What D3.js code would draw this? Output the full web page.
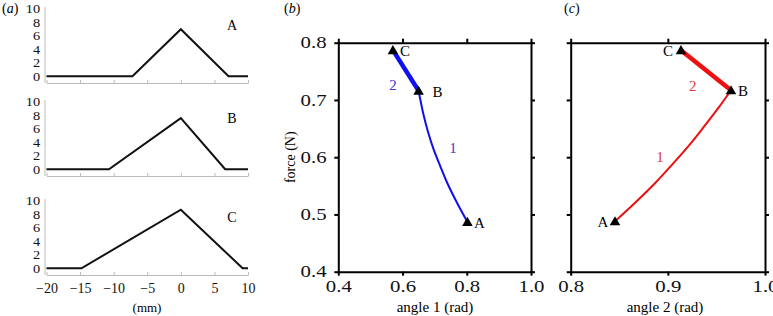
<!DOCTYPE html>
<html>
<head>
<meta charset="utf-8">
<script src="https://cdn.jsdelivr.net/npm/d3@7"></script>
<style>
  body { margin: 0; background: #fff; }
  svg text { font-family: "Liberation Serif", "DejaVu Serif", serif; font-size: 14px; }
  .frame .domain, .frame line { stroke: #000; stroke-width: 2; }
  .frame text { fill: #111; font-size: 16px; }
  .thin .domain, .thin line { stroke: #bbb; stroke-width: 1; }
  .thin text { fill: #111; }
  .thin.yax text { font-size: 12px; }
</style>
</head>
<body>
<div id="chart"></div>
<script>
// ---- data ----
const mmTicks = [-20, -15, -10, -5, 0, 5, 10];
const heightTicks = [0, 2, 4, 6, 8, 10];
const profileNames = ["A", "B", "C"];
const profileA = [[-20, 0], [-7.2, 0], [0, 7.0], [7.1, 0], [10, 0]];
const profileB = [[-20, 0], [-10.7, 0], [0, 7.6], [6.6, 0], [10, 0]];
const profileC = [[-20, 0], [-14.8, 0], [0, 8.7], [9.2, 0], [10, 0]];

const forceTicks = [0.4, 0.5, 0.6, 0.7, 0.8];
const angle1Ticks = [0.4, 0.6, 0.8, 1.0];
const angle2Ticks = [0.8, 0.9, 1.0];

// panel (b): angle 1 vs force
const angle1Seg1 = [[0.802, 0.487], [0.770, 0.52], [0.740, 0.554], [0.717, 0.585],
                    [0.696, 0.615], [0.679, 0.645], [0.665, 0.675], [0.650, 0.716]];
const angle1Seg2 = [[0.650, 0.716], [0.570, 0.787]];
const angle1Points = [["A", 0.802, 0.487], ["B", 0.650, 0.716], ["C", 0.570, 0.787]];
const angle1SegLabels = [["1", 0.757, 0.616], ["2", 0.570, 0.726]];

// panel (c): angle 2 vs force
const angle2Seg1 = [[0.8456, 0.488], [0.866, 0.52], [0.887, 0.555], [0.906, 0.59],
                    [0.924, 0.625], [0.938, 0.655], [0.952, 0.686], [0.965, 0.717]];
const angle2Seg2 = [[0.965, 0.717], [0.9135, 0.787]];
const angle2Points = [["A", 0.8456, 0.488], ["B", 0.965, 0.717], ["C", 0.9135, 0.787]];
const angle2SegLabels = [["1", 0.892, 0.601], ["2", 0.9256, 0.725]];

const W = 773, H = 316;
const svg = d3.select("#chart").append("svg")
    .attr("width", W)
    .attr("height", H);

// panel letters
function panelLetter(x, y, ch) {
    const t = svg.append("text").attr("x", x).attr("y", y);
    t.append("tspan").text("(");
    t.append("tspan").style("font-style", "italic").text(ch);
    t.append("tspan").text(")");
}
panelLetter(2, 13, "a");
panelLetter(284, 13, "b");
panelLetter(564, 13, "c");

// ---- panel (a): three height profiles ----
const xMm = d3.scaleLinear().domain([-20, 10]).range([46.5, 248]);
const profiles = [profileA, profileB, profileC];
const profileTops = [9, 102, 201];

profiles.forEach((prof, i) => {
    const top = profileTops[i];
    const yH = d3.scaleLinear().domain([-1, 10]).range([top + 74, top]);
    const g = svg.append("g");

    const xAxis = d3.axisBottom(xMm).tickValues(mmTicks).tickSize(-3).tickSizeOuter(0)
        .tickPadding(8);
    const gx = g.append("g")
        .attr("class", "thin")
        .attr("transform", `translate(0,${yH(-1)})`)
        .call(xAxis);
    if (i === 2) {
        gx.selectAll("text").text(d => d < 0 ? "\u2212" + Math.abs(d) : d);
    } else {
        gx.selectAll("text").remove();
    }

    const yAxis = d3.axisLeft(yH).tickValues(heightTicks).tickSize(0).tickPadding(4);
    const gy = g.append("g")
        .attr("class", "thin yax")
        .attr("transform", `translate(45,0)`)
        .call(yAxis);
    gy.select(".domain").attr("d", `M0,${yH(-1)}V${yH(10) - 2}`);
    gy.selectAll("text").attr("transform", "scale(1.2,1)");

    g.append("path")
        .datum(prof)
        .attr("fill", "none")
        .attr("stroke", "#111")
        .attr("stroke-width", 2)
        .attr("d", d3.line().x(d => xMm(d[0])).y(d => yH(d[1])));

    g.append("text")
        .attr("x", 232)
        .attr("y", yH(7.6) + 5)
        .attr("text-anchor", "middle")
        .text(profileNames[i]);
});

svg.append("text")
    .attr("x", 147)
    .attr("y", 312)
    .attr("text-anchor", "middle")
    .style("font-size", "13px")
    .text("(mm)");

// ---- panels (b) and (c) ----
const yForce = d3.scaleLinear().domain([0.4, 0.8]).range([271.7, 42.7]);

function framePanel(x, ticks, showY, xLabel, labelX) {
    const g = svg.append("g").attr("class", "frame");
    g.append("g").attr("transform", `translate(0,${yForce(0.4)})`)
        .call(d3.axisBottom(x).tickValues(ticks).tickSize(4).tickSizeOuter(0)
            .tickPadding(5).tickFormat(d3.format(".1f")));
    g.append("g").attr("transform", `translate(0,${yForce(0.8)})`)
        .call(d3.axisTop(x).tickValues(ticks).tickSize(4).tickSizeOuter(0).tickFormat(""));
    g.append("g").attr("transform", `translate(${x.range()[0]},0)`)
        .call(d3.axisLeft(yForce).tickValues(forceTicks).tickSize(4).tickSizeOuter(0)
            .tickPadding(5).tickFormat(showY ? d3.format(".1f") : ""));
    g.append("g").attr("transform", `translate(${x.range()[1]},0)`)
        .call(d3.axisRight(yForce).tickValues(forceTicks).tickSize(4).tickSizeOuter(0).tickFormat(""));
    g.selectAll(".domain").attr("stroke-linecap", "square");
    g.selectAll("text").attr("transform", "scale(1.3,1)");

    svg.append("text")
        .attr("x", labelX)
        .attr("y", 312)
        .attr("text-anchor", "middle")
        .style("font-size", "15px")
        .text(xLabel);
}

function drawPath(x, seg1, seg2, points, segLabels, color, labelColor, labelDx) {
    const line = d3.line().curve(d3.curveCatmullRom).x(d => x(d[0])).y(d => yForce(d[1]));
    svg.append("path").datum(seg1)
        .attr("fill", "none").attr("stroke", color).attr("stroke-width", 2)
        .attr("d", line);
    svg.append("path").datum(seg2)
        .attr("fill", "none").attr("stroke", color).attr("stroke-width", 4.5)
        .attr("d", d3.line().x(d => x(d[0])).y(d => yForce(d[1])));

    svg.selectAll(null).data(points).enter().append("path")
        .attr("d", d3.symbol(d3.symbolTriangle, 48))
        .attr("fill", "#000")
        .attr("transform", d => `translate(${x(d[1])},${yForce(d[2]) + 1})`);

    svg.selectAll(null).data(points).enter().append("text")
        .attr("x", d => x(d[1]) + labelDx[d[0]])
        .attr("y", d => yForce(d[2]) + 6)
        .attr("text-anchor", "middle")
        .style("font-size", "15px")
        .text(d => d[0]);

    svg.selectAll(null).data(segLabels).enter().append("text")
        .attr("x", d => x(d[1]))
        .attr("y", d => yForce(d[2]) + 5)
        .attr("text-anchor", "middle")
        .attr("fill", labelColor)
        .style("font-size", "15px")
        .text(d => d[0]);
}

const xAngle1 = d3.scaleLinear().domain([0.4, 1.0]).range([338.3, 531]);
framePanel(xAngle1, angle1Ticks, true, "angle 1 (rad)", 435);
drawPath(xAngle1, angle1Seg1, angle1Seg2, angle1Points, angle1SegLabels,
    "#1010ee", "#3a3acc", { A: 12, B: 19, C: 12 });

const xAngle2 = d3.scaleLinear().domain([0.8, 1.0]).range([570.7, 765]);
framePanel(xAngle2, angle2Ticks, false, "angle 2 (rad)", 665);
drawPath(xAngle2, angle2Seg1, angle2Seg2, angle2Points, angle2SegLabels,
    "#ee1010", "#e03a3a", { A: -12, B: 12, C: -13 });

svg.append("text")
    .attr("transform", `translate(295,${yForce(0.6)}) rotate(-90)`)
    .attr("text-anchor", "middle")
    .text("force (N)");
</script>
</body>
</html>
